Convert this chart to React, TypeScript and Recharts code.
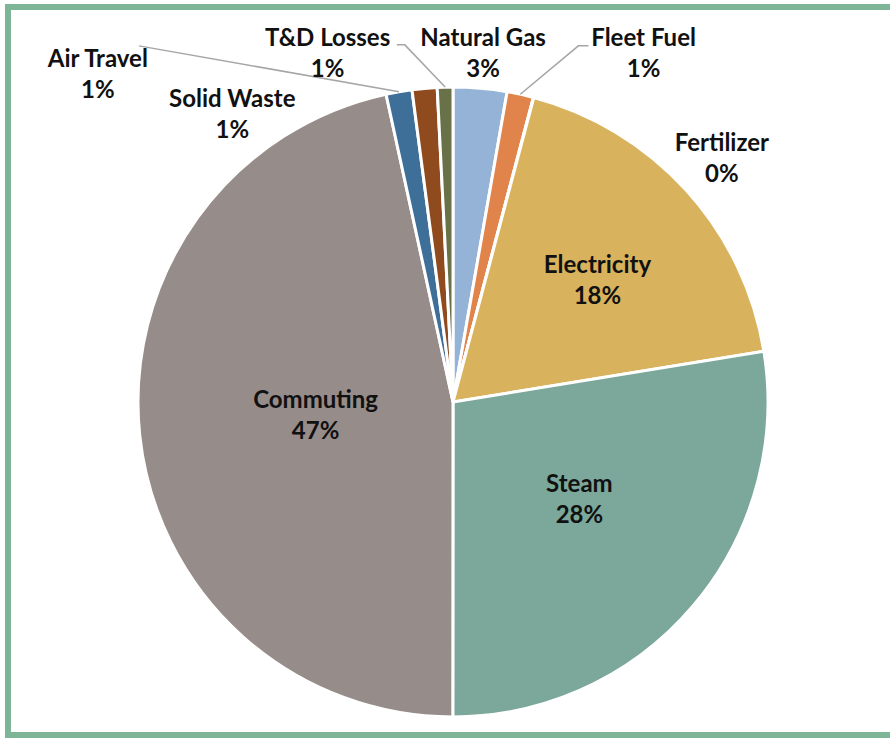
import React from "react";
import { PieChart, Pie, Cell } from "recharts";

const categories = ["Natural Gas", "Fleet Fuel", "Fertilizer", "Electricity", "Steam", "Commuting", "Air Travel", "Solid Waste", "T&D Losses"];
const values = [2.75, 1.36, 0.02, 18.3, 27.6, 46.6, 1.33, 1.28, 0.8];
const percentLabels = ["3%", "1%", "0%", "18%", "28%", "47%", "1%", "1%", "1%"];
const colors = ["#95b3d7", "#e0844b", "#9bbb59", "#d9b25d", "#7ba89b", "#968c8a", "#3e6f99", "#8f4a1e", "#687147"];

const data = categories.map((name, i) => ({ name, value: values[i], pct: percentLabels[i] }));

// label placement relative to pie centre, in units of px at radius 314
const labelLayout: Record<string, { dx: number; dy: number; leader?: number[][] }> = {
  "Natural Gas": { dx: 30, dy: -355 },
  "Fleet Fuel": { dx: 190, dy: -355, leader: [[125, -355], [135, -355]] },
  "Fertilizer": { dx: 268, dy: -250 },
  "Electricity": { dx: 144, dy: -129 },
  "Steam": { dx: 126, dy: 90 },
  "Commuting": { dx: -137, dy: 6 },
  "Air Travel": { dx: -354, dy: -334, leader: [[-313, -355]] },
  "Solid Waste": { dx: -220, dy: -294 },
  "T&D Losses": { dx: -125, dy: -355, leader: [[-48, -356], [-56, -356]] },
};

const RAD = Math.PI / 180;
const FONT = "Lato, 'Open Sans', sans-serif";

const renderLabel = (props: any) => {
  const { cx, cy, midAngle, outerRadius, name, payload, index } = props;
  const k = outerRadius / 314;
  const lay = labelLayout[name];
  if (!lay) return null;
  const x = cx + lay.dx * k;
  const y = cy + lay.dy * k;
  let line: React.ReactNode = null;
  if (lay.leader) {
    const sx = cx + outerRadius * Math.cos(-midAngle * RAD);
    const sy = cy + outerRadius * Math.sin(-midAngle * RAD);
    const pts = [[sx, sy], ...lay.leader.map(([a, b]) => [cx + a * k, cy + b * k])];
    line = <polyline points={pts.map((p) => p.join(",")).join(" ")} fill="none" stroke="#a6a6a6" strokeWidth={1.5} />;
  }
  const pct = payload && payload.pct ? payload.pct : percentLabels[index];
  return (
    <g key={`lbl-${name}`}>
      {line}
      <text x={x} y={y} textAnchor="middle" fill="#111" fontFamily={FONT} fontWeight={700} fontSize={24}>
        {name}
      </text>
      <text x={x} y={y + 31 * k} textAnchor="middle" fill="#111" fontFamily={FONT} fontWeight={700} fontSize={24}>
        {pct}
      </text>
    </g>
  );
};

export default function App() {
  return (
    <div style={{ position: "fixed", left: 0, top: 0, width: 890, height: 738, overflow: "hidden", background: "#fff" }}>
      <div
        style={{
          position: "absolute",
          left: 5,
          top: 4,
          width: 900,
          height: 722,
          borderLeft: "6px solid #7db697",
          borderTop: "6px solid #7db697",
          borderBottom: "6px solid #7db697",
        }}
      />
      <div style={{ position: "absolute", left: 0, top: 0 }}>
        <PieChart width={890} height={738} margin={{ top: 0, right: 0, bottom: 0, left: 0 }}>
          <Pie
            data={data}
            dataKey="value"
            nameKey="name"
            cx={453}
            cy={402}
            outerRadius={315}
            startAngle={90}
            endAngle={-270}
            stroke="#ffffff"
            strokeWidth={3}
            label={renderLabel}
            labelLine={false}
            isAnimationActive={false}
          >
            {data.map((d, i) => (
              <Cell key={d.name} fill={colors[i]} />
            ))}
          </Pie>
        </PieChart>
      </div>
    </div>
  );
}
